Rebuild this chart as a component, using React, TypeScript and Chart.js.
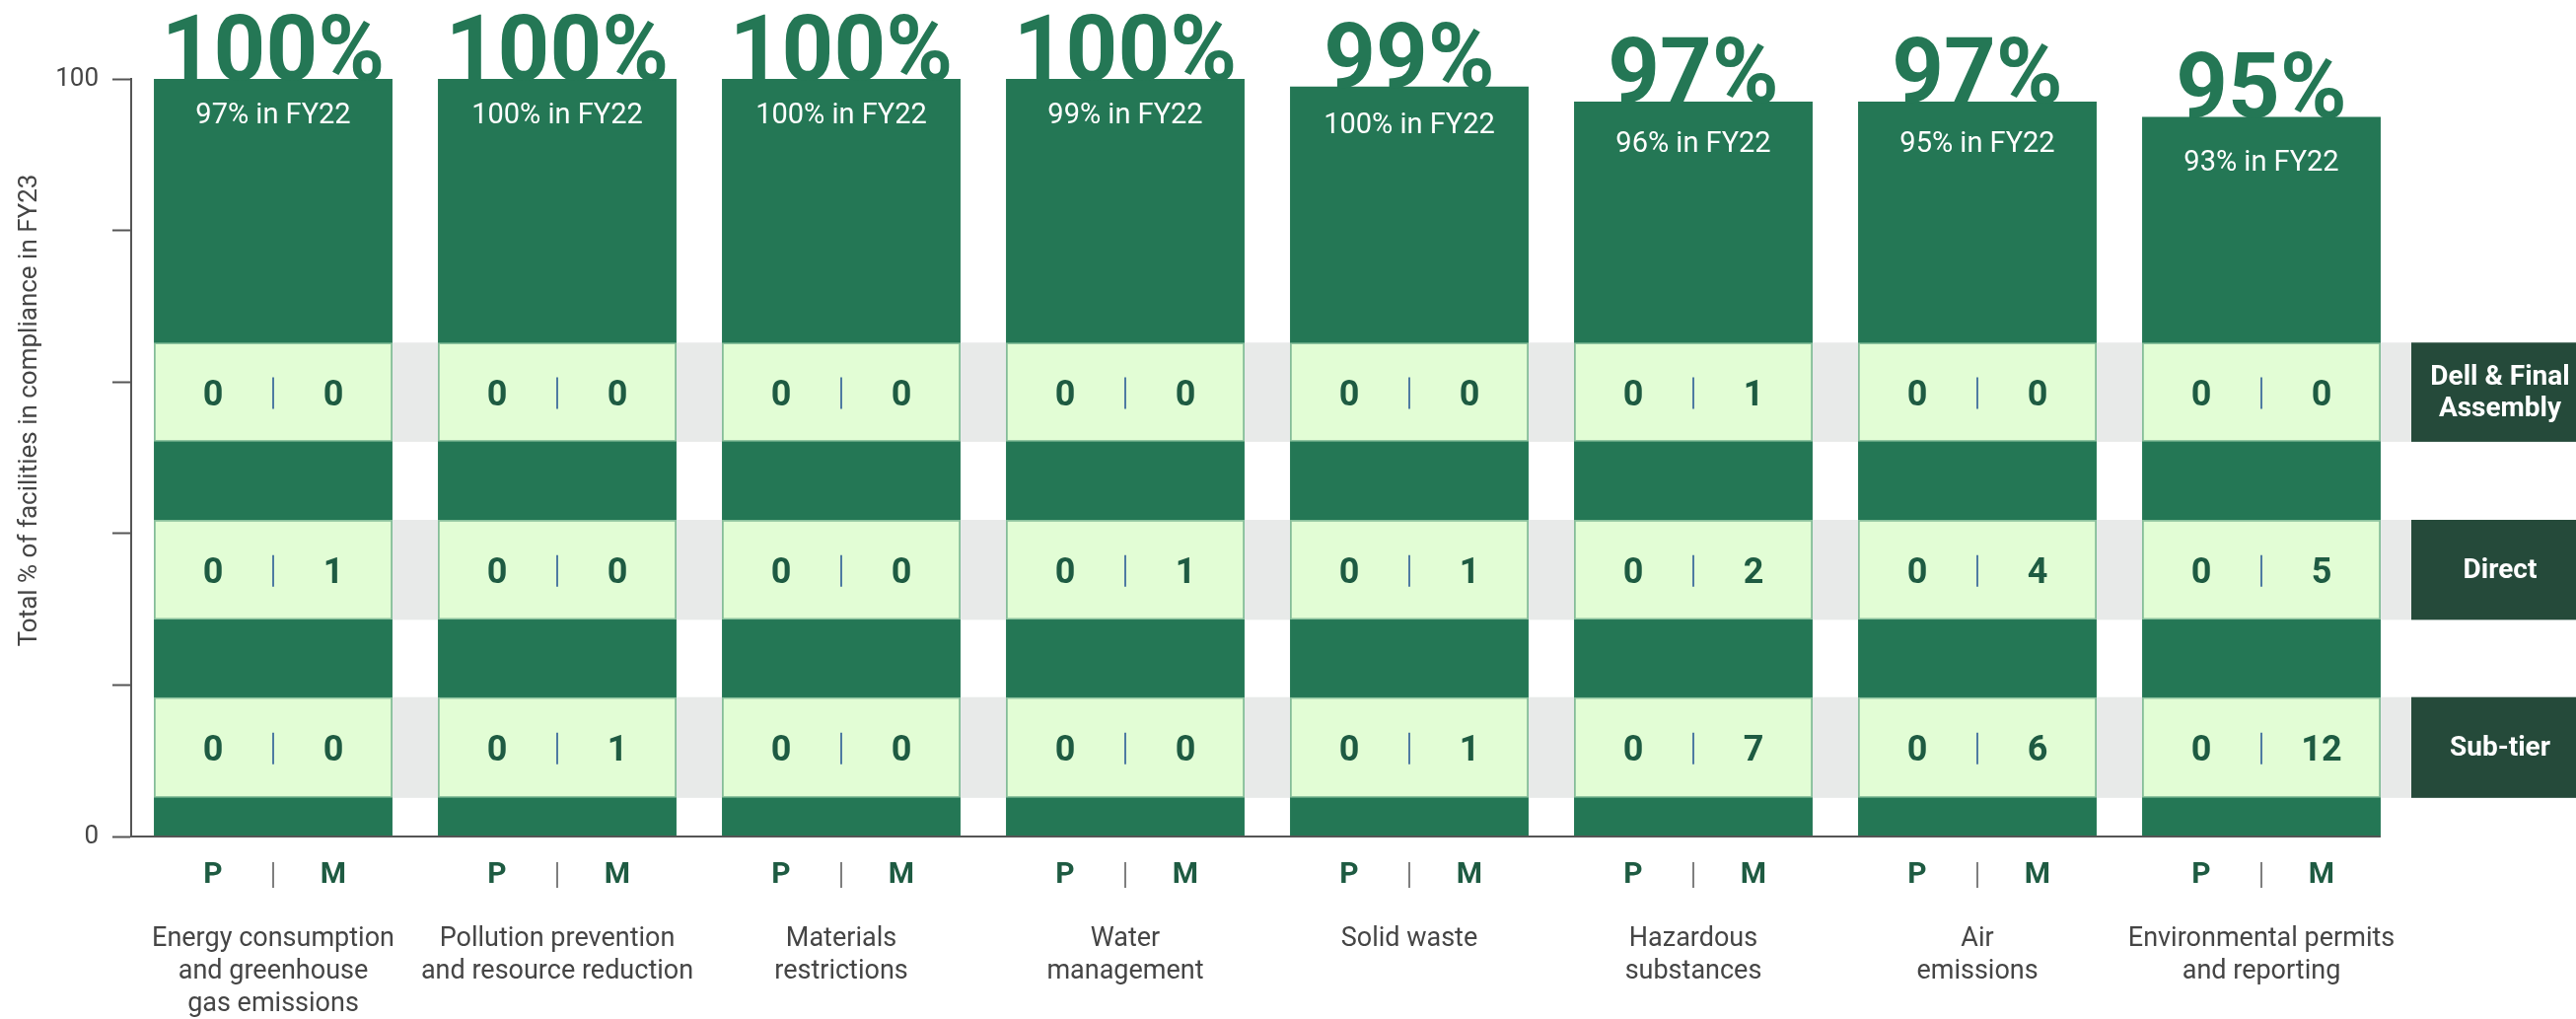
import React, { useEffect, useRef } from 'react';
import { Chart, registerables } from 'chart.js';

Chart.register(...registerables);

// ---------- data ----------
const categories: string[][] = [
  ['Energy consumption', 'and greenhouse', 'gas emissions'],
  ['Pollution prevention', 'and resource reduction'],
  ['Materials', 'restrictions'],
  ['Water', 'management'],
  ['Solid waste'],
  ['Hazardous', 'substances'],
  ['Air', 'emissions'],
  ['Environmental permits', 'and reporting'],
];
const fy23Compliance = [100, 100, 100, 100, 99, 97, 97, 95];
const fy22Compliance = [97, 100, 100, 99, 100, 96, 95, 93];

const tierNames: string[][] = [['Dell & Final', 'Assembly'], ['Direct'], ['Sub-tier']];
// vertical extent of each tier band, in axis units
const tierBands: number[][] = [
  [52.1, 65.2],
  [28.6, 41.8],
  [5.1, 18.4],
];
// P (priority) and M (major) findings per tier, per category
const priorityFindings: number[][] = [
  [0, 0, 0, 0, 0, 0, 0, 0],
  [0, 0, 0, 0, 0, 0, 0, 0],
  [0, 0, 0, 0, 0, 0, 0, 0],
];
const majorFindings: number[][] = [
  [0, 0, 0, 0, 0, 1, 0, 0],
  [1, 0, 0, 1, 1, 2, 4, 5],
  [0, 1, 0, 0, 1, 7, 6, 12],
];
const yTickLabels = [0, 100];
const yTitle = 'Total % of facilities in compliance in FY23';

// ---------- style ----------
const DARK = '#247755';
const LIGHT = '#e2fdd5';
const BAND_BORDER = '#8cc39f';
const GRAY = '#e8eae9';
const BOX = '#254a3a';
const NUM = '#1e5b42';
const TEXT = '#454545';
const AXIS = '#555555';
const BLUE = '#1c4f91';
const FONT = 'Roboto';

const overlayPlugin = {
  id: 'overlay',
  beforeDatasetsDraw(chart: any) {
    const { ctx, chartArea, scales } = chart;
    const y = scales.y;
    const meta = chart.getDatasetMeta(0);
    const first = meta.data[0];
    const left = first.x - first.width / 2;
    ctx.save();
    ctx.fillStyle = GRAY;
    tierBands.forEach(([lo, hi]) => {
      const top = y.getPixelForValue(hi);
      const bot = y.getPixelForValue(lo);
      ctx.fillRect(left, top, chartArea.right + 8 - left, bot - top);
    });
    ctx.restore();
  },
  afterDraw(chart: any) {
    const { ctx, chartArea, scales } = chart;
    const y = scales.y;
    const meta = chart.getDatasetMeta(0);
    const bars = meta.data;
    ctx.save();

    // baseline
    const last = bars[bars.length - 1];
    ctx.strokeStyle = AXIS;
    ctx.lineWidth = 2;
    ctx.beginPath();
    ctx.moveTo(chartArea.left, chartArea.bottom);
    ctx.lineTo(last.x + last.width / 2, chartArea.bottom);
    ctx.stroke();

    bars.forEach((bar: any, i: number) => {
      // big FY23 label
      ctx.fillStyle = DARK;
      ctx.font = `bold 92px ${FONT}`;
      ctx.textAlign = 'center';
      ctx.textBaseline = 'alphabetic';
      ctx.fillText(`${fy23Compliance[i]}%`, bar.x, bar.y + 1);

      // FY22 label
      ctx.fillStyle = '#ffffff';
      ctx.font = `29px ${FONT}`;
      ctx.textBaseline = 'middle';
      const off = 38 + (100 - fy23Compliance[i]) * 1.8;
      ctx.fillText(`${fy22Compliance[i]}% in FY22`, bar.x, bar.y + off);

      // tier numbers
      tierBands.forEach(([lo, hi], t) => {
        const yc = (y.getPixelForValue(lo) + y.getPixelForValue(hi)) / 2;
        ctx.fillStyle = NUM;
        ctx.font = `bold 36px ${FONT}`;
        ctx.textBaseline = 'middle';
        ctx.fillText(String(priorityFindings[t][i]), bar.x - 61, yc + 4);
        ctx.fillText(String(majorFindings[t][i]), bar.x + 61, yc + 4);
        ctx.strokeStyle = BLUE;
        ctx.lineWidth = 1.5;
        ctx.beginPath();
        ctx.moveTo(bar.x, yc - 15);
        ctx.lineTo(bar.x, yc + 17);
        ctx.stroke();
      });

      // P | M row
      const py = chartArea.bottom + 39;
      ctx.fillStyle = NUM;
      ctx.font = `bold 30px ${FONT}`;
      ctx.textBaseline = 'middle';
      ctx.fillText('P', bar.x - 61, py);
      ctx.fillText('M', bar.x + 61, py);
      ctx.strokeStyle = AXIS;
      ctx.lineWidth = 1.5;
      ctx.beginPath();
      ctx.moveTo(bar.x, py - 13);
      ctx.lineTo(bar.x, py + 13);
      ctx.stroke();
    });

    // tier label boxes
    const boxLeft = chartArea.right + 8;
    tierBands.forEach(([lo, hi], t) => {
      const top = y.getPixelForValue(hi);
      const bot = y.getPixelForValue(lo);
      ctx.fillStyle = BOX;
      ctx.fillRect(boxLeft, top, chart.width - boxLeft, bot - top);
      ctx.fillStyle = '#ffffff';
      ctx.font = `bold 28px ${FONT}`;
      ctx.textAlign = 'center';
      ctx.textBaseline = 'middle';
      const lines = tierNames[t];
      const lh = 32;
      const yc = (top + bot) / 2 + 1;
      lines.forEach((ln, k) => {
        ctx.fillText(ln, boxLeft + 90, yc + (k - (lines.length - 1) / 2) * lh);
      });
    });

    // y-axis title
    ctx.translate(30, 416);
    ctx.rotate(-Math.PI / 2);
    ctx.fillStyle = TEXT;
    ctx.font = `26px ${FONT}`;
    ctx.textAlign = 'center';
    ctx.textBaseline = 'middle';
    ctx.fillText(yTitle, 0, 0);

    ctx.restore();
  },
};

export default function App() {
  const ref = useRef<HTMLCanvasElement>(null);
  useEffect(() => {
    document.body.style.margin = '0';
    document.body.style.overflow = 'hidden';
    let chart: Chart | null = null;
    let cancelled = false;
    const fonts: any = (document as any).fonts;
    const ready = fonts
      ? Promise.all([
          fonts.load(`26px ${FONT}`),
          fonts.load(`bold 36px ${FONT}`),
        ]).catch(() => undefined)
      : Promise.resolve();
    ready.then(() => {
      if (cancelled || !ref.current) return;
      chart = new Chart(ref.current, {
        type: 'bar',
        data: {
          labels: categories,
          datasets: [
            {
              label: 'FY23',
              data: fy23Compliance,
              backgroundColor: DARK,
              borderWidth: 0,
              order: 2,
            },
            ...tierBands.map((band, t) => ({
              label: tierNames[t].join(' '),
              data: categories.map(() => band),
              backgroundColor: LIGHT,
              borderColor: BAND_BORDER,
              borderWidth: 1.5,
              borderSkipped: false,
              order: 1,
            })),
          ] as any,
        },
        options: {
          responsive: false,
          animation: false,
          devicePixelRatio: 1,
          events: [],
          layout: { padding: { left: 0, top: 80, right: 175, bottom: 0 } },
          datasets: {
            bar: { grouped: false, barPercentage: 0.84, categoryPercentage: 1 } as any,
          },
          plugins: {
            legend: { display: false },
            tooltip: { enabled: false },
          },
          scales: {
            x: {
              grid: { display: false },
              border: { display: false },
              ticks: {
                autoSkip: false,
                maxRotation: 0,
                minRotation: 0,
                padding: 80,
                color: TEXT,
                font: { family: FONT, size: 27, lineHeight: 1.22 },
              },
              afterFit(scale: any) {
                scale.height = 185;
              },
            },
            y: {
              min: 0,
              max: 100,
              ticks: {
                stepSize: 20,
                padding: 14,
                color: TEXT,
                font: { family: FONT, size: 26 },
                callback: (v: any) => (yTickLabels.includes(Number(v)) ? String(v) : ''),
              },
              grid: {
                drawOnChartArea: false,
                drawTicks: true,
                tickLength: 19,
                tickWidth: 2,
                tickColor: AXIS,
              },
              border: { display: true, color: AXIS, width: 2 },
              afterFit(scale: any) {
                scale.width = 133;
              },
            },
          },
        },
        plugins: [overlayPlugin],
      });
    });
    return () => {
      cancelled = true;
      if (chart) chart.destroy();
    };
  }, []);
  return (
    <canvas
      ref={ref}
      width={2612}
      height={1033}
      style={{ display: 'block', width: 2612, height: 1033 }}
    />
  );
}
